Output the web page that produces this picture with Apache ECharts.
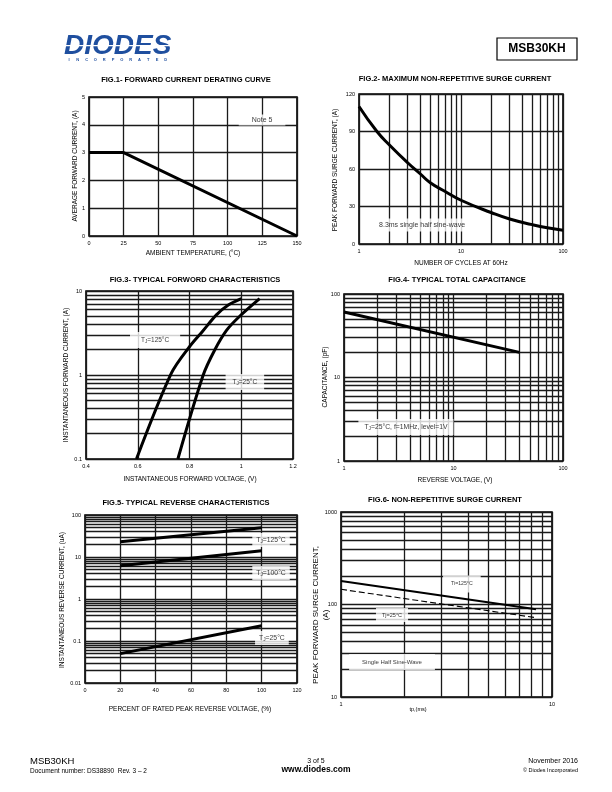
<!DOCTYPE html>
<html><head><meta charset="utf-8">
<script src="https://cdn.jsdelivr.net/npm/echarts@6/dist/echarts.min.js"></script>
<style>html,body{margin:0;padding:0;background:#fff}#c{width:612px;height:792px}</style>
</head><body><div id="c"></div>
<script>
// ---------- DATA ----------
// Fig.1 Forward current derating
const fig1Temp = [0, 25, 150];
const fig1Current = [3, 3, 0];
// Fig.2 Max non-repetitive surge current
const fig2Cycles = [1, 1.5, 2, 3, 4, 5, 7, 10, 20, 30, 50, 70, 100];
const fig2Surge = [110, 90, 79, 65, 56, 49, 42, 35, 25, 20, 15.5, 13, 11];
// Fig.3 Typical forward characteristics
const fig3V125 = [0.595, 0.73, 0.80, 0.85, 0.904, 0.95, 1.0];
const fig3I125 = [0.1, 1.05, 2.17, 3.3, 5.2, 6.8, 8.1];
const fig3V25 = [0.755, 0.853, 0.898, 0.943, 0.994, 1.071];
const fig3I25 = [0.1, 1.0, 2.0, 3.4, 5.0, 8.1];
// Fig.4 Typical total capacitance
const fig4Vr = [1, 40];
const fig4Cap = [61, 20];
// Fig.5 Typical reverse characteristics
const fig5Pct = [20, 100];
const fig5I125 = [23, 50];
const fig5I100 = [6.2, 14];
const fig5I25 = [0.05, 0.23];
// Fig.6 Non-repetitive surge current
const fig6Tp = [1, 8.4];
const fig6S125 = [180, 89];
const fig6S25 = [146, 72];
// Titles & axis names
const titles = [
  'FIG.1- FORWARD CURRENT DERATING CURVE',
  'FIG.2- MAXIMUM NON-REPETITIVE SURGE CURRENT',
  'FIG.3- TYPICAL FORWORD CHARACTERISTICS',
  'FIG.4- TYPICAL TOTAL CAPACITANCE',
  'FIG.5- TYPICAL REVERSE CHARACTERISTICS',
  'FIG.6- NON-REPETITIVE SURGE CURRENT'
];
const xNames = ['AMBIENT TEMPERATURE, (\u00B0C)', 'NUMBER OF CYCLES AT 60Hz', 'INSTANTANEOUS FORWARD VOLTAGE, (V)', 'REVERSE VOLTAGE, (V)', 'PERCENT OF RATED PEAK REVERSE VOLTAGE, (%)', 'tp,(ms)'];
const yNames = ['AVERAGE FORWARD CURRENT, (A)', 'PEAK FORWARD SURGE CURRENT, (A)', 'INSTANTANEOUS FORWARD CURRENT, (A)', 'CAPACITANCE, (pF)', 'INSTANTANEOUS REVERSE CURRENT, (uA)'];

// ---------- LAYOUT ----------
const F = 'Liberation Sans, Arial, sans-serif';
const G = [
  {left: 89, top: 97, width: 208, height: 139},
  {left: 359, top: 94, width: 204, height: 150},
  {left: 86, top: 291, width: 207, height: 168},
  {left: 344, top: 294, width: 219, height: 167},
  {left: 85, top: 515, width: 212, height: 168},
  {left: 341, top: 512, width: 211, height: 185}
];
const gridCol = '#1a1a1a', gridW = 1.3;

function minors(lo, hi) {
  const out = [];
  for (let k = Math.floor(Math.log10(lo)); k < Math.ceil(Math.log10(hi)); k++) {
    for (let m = 2; m <= 9; m++) {
      const v = Number((m * Math.pow(10, k)).toPrecision(6));
      if (v > lo && v < hi) out.push(v);
    }
  }
  return out;
}
const base = (idx) => ({
  gridIndex: idx,
  axisLine: {show: false}, axisTick: {show: false},
  splitLine: {show: true, lineStyle: {color: gridCol, width: gridW}},
  axisLabel: {fontSize: 5.5, color: '#000', margin: 4, fontFamily: F, showMinLabel: true, showMaxLabel: true,
    formatter: v => String(Number(Number(v).toPrecision(6)))}
});
const lin = (idx, min, max, interval) => Object.assign(base(idx), {type: 'value', min, max, interval});
const logA = (idx, min, max) => Object.assign(base(idx), {type: 'log', logBase: 10, min, max});

function mk(xs, ys) {
  return {
    silent: true, symbol: 'none', animation: false,
    label: {show: false},
    lineStyle: {type: 'solid', color: gridCol, width: gridW},
    emphasis: {disabled: true},
    data: [...xs.map(v => ({xAxis: v})), ...ys.map(v => ({yAxis: v}))]
  };
}
const zip = (a, b) => a.map((v, i) => [v, b[i]]);
function curve(idx, xs, ys, extra) {
  return Object.assign({
    type: 'line', xAxisIndex: idx, yAxisIndex: idx, data: zip(xs, ys),
    symbol: 'none', smooth: false, silent: true, z: 5,
    lineStyle: {color: '#000', width: 3}
  }, extra || {});
}
const rich = {
  n: {fontSize: 6.5, fontFamily: F, color: '#000'},
  s: {fontSize: 4.5, fontFamily: F, color: '#000', padding: [3, 0, 0, 0]},
  m: {fontSize: 6.8, fontFamily: F, color: '#000'},
  ms: {fontSize: 4.8, fontFamily: F, color: '#000', padding: [3, 0, 0, 0]}
};
function notes(idx, items) {
  return {
    type: 'scatter', xAxisIndex: idx, yAxisIndex: idx, symbolSize: 0, silent: true, z: 10,
    data: items.map(it => ({
      value: [it[0], it[1]],
      label: {show: true, position: 'inside', formatter: it[2], backgroundColor: '#fff',
        padding: it[3], fontSize: it[4], fontFamily: F, color: '#000', rich: rich}
    }))
  };
}

const series = [
  curve(0, fig1Temp, fig1Current, {markLine: mk([], [])}),
  notes(0, [[124.8, 4.17, 'Note 5', [2, 13], 7]]),
  curve(1, fig2Cycles, fig2Surge, {smooth: true, markLine: mk(minors(1, 100), [])}),
  notes(1, [[4.15, 15.2, '8.3ms single half sine-wave', [3, 3], 7]]),
  curve(2, fig3V125, fig3I125, {smooth: 0.3, markLine: mk([], minors(0.1, 10))}),
  curve(2, fig3V25, fig3I25, {smooth: 0.3}),
  notes(2, [[0.667, 2.61, '{n|T}{s|J}{n|=125\u00B0C}', [4, 11], 6.5],
            [1.014, 0.826, '{n|T}{s|J}{n|=25\u00B0C}', [4, 7], 6.5]]),
  curve(3, fig4Vr, fig4Cap, {markLine: mk(minors(1, 100), minors(1, 100))}),
  notes(3, [[3.68, 2.55, '{m|T}{ms|J}{m|=25\u00B0C, f=1MHz, level=1V}', [4, 6], 6.8]]),
  curve(4, fig5Pct, fig5I125, {markLine: mk([], minors(0.01, 100))}),
  curve(4, fig5Pct, fig5I100),
  curve(4, fig5Pct, fig5I25),
  notes(4, [[105.3, 25.4, '{m|T}{ms|J}{m|=125\u00B0C}', [3, 4], 7],
            [105.3, 4.16, '{m|T}{ms|J}{m|=100\u00B0C}', [3, 4], 7],
            [105.8, 0.118, '{m|T}{ms|J}{m|=25\u00B0C}', [3, 4], 7]]),
  curve(5, fig6Tp, fig6S125, {lineStyle: {color: '#000', width: 2}, markLine: mk(minors(1, 10), minors(10, 1000))}),
  curve(5, fig6Tp, fig6S25, {lineStyle: {color: '#000', width: 1.1, type: [6, 3]}}),
  notes(5, [[3.74, 167, 'Ti=125\u00B0C', [6, 8], 5.2],
            [1.745, 76.9, 'Tj=25\u00B0C', [4, 6], 5.5],
            [1.745, 23.9, 'Single Half Sine-Wave', [5, 13], 6]])
];

// ---------- TEXT GRAPHICS ----------
const gfx = [];
function txt(x, y, text, font, opts) {
  gfx.push(Object.assign({type: 'text', x, y, silent: true, z: 20,
    style: {text, font, fill: '#000', textAlign: 'center', textVerticalAlign: 'middle'}}, opts || {}));
}
function txtA(x, y, text, font, align) {
  gfx.push({type: 'text', x, y, silent: true, z: 20,
    style: {text, font, fill: '#000', textAlign: align, textVerticalAlign: 'middle'}});
}
const TF = 'bold 7.5px ' + F, NF = '6.5px ' + F;
const tPos = [[186, 80], [455, 79], [195, 280], [457, 280], [186, 503], [445, 500]];
titles.forEach((t, i) => txt(tPos[i][0], tPos[i][1], t, TF));
const xnPos = [[193, 253], [461, 263], [190, 479], [455, 480], [190, 709], [418, 709]];
xNames.forEach((t, i) => txt(xnPos[i][0], xnPos[i][1], t, i === 5 ? '5.5px ' + F : NF));
const ynPos = [[75, 166], [335, 170], [66, 375], [325, 377], [62, 600]];
yNames.forEach((t, i) => txt(ynPos[i][0], ynPos[i][1], t, NF, {rotation: Math.PI / 2}));
txt(316, 615, 'PEAK FORWARD SURGE CURRENT,', '8px ' + F, {rotation: Math.PI / 2});
txt(326, 615, '(A)', '8px ' + F, {rotation: Math.PI / 2});

// header
gfx.push({type: 'text', x: 64, y: 46, silent: true, z: 20,
  style: {text: 'DIODES', font: 'italic 900 28px ' + F, fill: '#1f4f9f', textAlign: 'left', textVerticalAlign: 'middle'}});
gfx.push({type: 'rect', silent: true, z: 21, shape: {x: 66, y: 45, width: 107, height: 1.2}, style: {fill: '#fff'}});
'INCORPORATED'.split('').forEach((ch, i) => {
  gfx.push({type: 'text', x: 69 + i * 8.8, y: 60, silent: true, z: 20,
    style: {text: ch, font: 'bold 4px ' + F, fill: '#1f4f9f', textAlign: 'center', textVerticalAlign: 'middle'}});
});
gfx.push({type: 'rect', silent: true, z: 20, shape: {x: 497, y: 38, width: 80, height: 22},
  style: {fill: 'none', stroke: '#000', lineWidth: 1.2}});
txt(537, 49, 'MSB30KH', 'bold 12px ' + F);

// footer
txtA(30, 761, 'MSB30KH', '9.5px ' + F, 'left');
txtA(30, 771, 'Document number: DS38890  Rev. 3 \u2013 2', '6.5px ' + F, 'left');
txt(316, 761, '3 of 5', '7px ' + F);
txt(316, 770, 'www.diodes.com', 'bold 8.5px ' + F);
txtA(578, 761, 'November 2016', '7px ' + F, 'right');
txtA(578, 770, '\u00A9 Diodes Incorporated', '5.5px ' + F, 'right');

const option = {
  animation: false,
  backgroundColor: '#fff',
  grid: G.map(g => Object.assign({show: true, borderColor: '#000', borderWidth: 1.6, backgroundColor: 'transparent'}, g)),
  xAxis: [
    lin(0, 0, 150, 25),
    logA(1, 1, 100),
    lin(2, 0.4, 1.2, 0.2),
    logA(3, 1, 100),
    lin(4, 0, 120, 20),
    logA(5, 1, 10)
  ],
  yAxis: [
    lin(0, 0, 5, 1),
    lin(1, 0, 120, 30),
    logA(2, 0.1, 10),
    logA(3, 1, 100),
    logA(4, 0.01, 100),
    logA(5, 10, 1000)
  ],
  series: series,
  graphic: gfx
};
const chart = echarts.init(document.getElementById('c'), null, {renderer: 'canvas'});
chart.setOption(option);
</script></body></html>
